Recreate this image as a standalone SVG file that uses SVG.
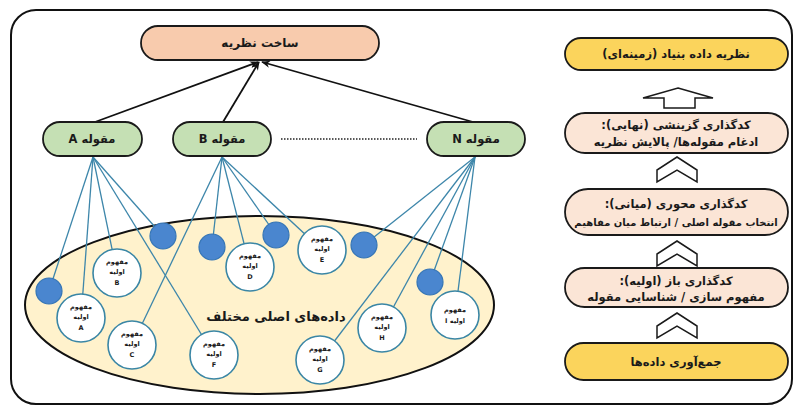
<svg xmlns="http://www.w3.org/2000/svg" width="795" height="408" viewBox="0 0 795 408">
<defs>
<style>
text{font-family:"DejaVu Sans","Noto Sans",sans-serif;font-weight:bold;fill:#1a1a1a;text-anchor:middle;direction:rtl;unicode-bidi:embed}
.box{stroke:#1a1a1a;stroke-width:1.8}
.cat{fill:#c5e0b4}
.peach{fill:#fbe5d6}
.gold{fill:#fbd45c}
.conn{stroke:#111;stroke-width:1.8;fill:none}
.bl{stroke:#3d86aa;stroke-width:1.3;fill:none}
.dot{fill:#4a86cf;stroke:#3575b5;stroke-width:1.2}
.cc{fill:#fff;stroke:#3a86a5;stroke-width:1.6}
.ct{font-size:6.5px}
.lb{font-size:11.5px}
.rt{font-size:11.5px}
.chev{fill:#fff;stroke:#1a1a1a;stroke-width:1.5;stroke-linejoin:miter}
</style>
<marker id="ah" viewBox="0 0 10 10" refX="9" refY="5" markerWidth="9" markerHeight="9" markerUnits="userSpaceOnUse" orient="auto">
<path d="M0,1 L10,5 L0,9 L3,5 Z" fill="#111"/>
</marker>
</defs>

<rect id="frame" x="11" y="10" width="781" height="394" rx="25" fill="#fff" stroke="#111" stroke-width="2"/>

<g id="data-ellipse">
<ellipse cx="259.5" cy="305" rx="234.5" ry="89" fill="#fff2cc" stroke="#111" stroke-width="2"/>
<text x="276" y="321" style="font-size:13px">داده&#8204;های اصلی مختلف</text>
</g>

<g id="connectors">
<line class="conn" x1="95" y1="122" x2="258" y2="62" marker-end="url(#ah)"/>
<line class="conn" x1="223" y1="122" x2="259" y2="62" marker-end="url(#ah)"/>
<line class="conn" x1="473" y1="122" x2="262" y2="62" marker-end="url(#ah)"/>
<line x1="281" y1="139" x2="417" y2="139" stroke="#222" stroke-width="1.5" stroke-dasharray="1.5,1.5"/>
<g class="bl">
<line x1="93" y1="157" x2="49" y2="291"/>
<line x1="93" y1="157" x2="81" y2="318"/>
<line x1="93" y1="157" x2="117" y2="273"/>
<line x1="93" y1="157" x2="163" y2="236"/>
<line x1="93" y1="157" x2="214" y2="355"/>
<line x1="222" y1="157" x2="132" y2="345"/>
<line x1="222" y1="157" x2="212" y2="247"/>
<line x1="222" y1="157" x2="250" y2="267"/>
<line x1="222" y1="157" x2="276" y2="235"/>
<line x1="222" y1="157" x2="322" y2="250"/>
<line x1="475" y1="157" x2="364" y2="245"/>
<line x1="475" y1="157" x2="320" y2="360"/>
<line x1="475" y1="157" x2="382" y2="328"/>
<line x1="475" y1="157" x2="430" y2="282"/>
<line x1="475" y1="157" x2="455" y2="315"/>
</g>
</g>

<g id="theory">
<rect class="box" x="141" y="26" width="238" height="34" rx="17" fill="#f8cbad"/>
<text x="260" y="47" class="lb" style="font-size:12px">ساخت نظریه</text>
</g>
<g id="catA">
<rect class="box cat" x="43" y="122" width="99" height="34" rx="17"/>
<text x="92" y="143" class="lb">مقوله A</text>
</g>
<g id="catB">
<rect class="box cat" x="173" y="122" width="98" height="34" rx="17"/>
<text x="222" y="143" class="lb">مقوله B</text>
</g>
<g id="catN">
<rect class="box cat" x="427" y="122" width="98" height="34" rx="17"/>
<text x="476" y="143" class="lb">مقوله N</text>
</g>

<g id="b1"><circle class="dot" cx="49" cy="291" r="13"/></g>
<g id="b2"><circle class="dot" cx="163" cy="236" r="13"/></g>
<g id="b3"><circle class="dot" cx="212" cy="247" r="13"/></g>
<g id="b4"><circle class="dot" cx="276" cy="235" r="13"/></g>
<g id="b5"><circle class="dot" cx="364" cy="245" r="13"/></g>
<g id="b6"><circle class="dot" cx="430" cy="282" r="13"/></g>

<g id="cA"><circle class="cc" cx="81" cy="318" r="24"/><text class="ct" x="81" y="309">مفهوم</text><text class="ct" x="81" y="319">اولیه</text><text class="ct" x="81" y="330">A</text></g>
<g id="cB"><circle class="cc" cx="117" cy="273" r="24"/><text class="ct" x="117" y="264">مفهوم</text><text class="ct" x="117" y="274">اولیه</text><text class="ct" x="117" y="285">B</text></g>
<g id="cC"><circle class="cc" cx="132" cy="345" r="24"/><text class="ct" x="132" y="336">مفهوم</text><text class="ct" x="132" y="346">اولیه</text><text class="ct" x="132" y="357">C</text></g>
<g id="cD"><circle class="cc" cx="250" cy="267" r="24"/><text class="ct" x="250" y="258">مفهوم</text><text class="ct" x="250" y="268">اولیه</text><text class="ct" x="250" y="279">D</text></g>
<g id="cE"><circle class="cc" cx="322" cy="250" r="24"/><text class="ct" x="322" y="241">مفهوم</text><text class="ct" x="322" y="251">اولیه</text><text class="ct" x="322" y="262">E</text></g>
<g id="cF"><circle class="cc" cx="214" cy="355" r="24"/><text class="ct" x="214" y="346">مفهوم</text><text class="ct" x="214" y="356">اولیه</text><text class="ct" x="214" y="367">F</text></g>
<g id="cG"><circle class="cc" cx="320" cy="360" r="24"/><text class="ct" x="320" y="351">مفهوم</text><text class="ct" x="320" y="361">اولیه</text><text class="ct" x="320" y="372">G</text></g>
<g id="cH"><circle class="cc" cx="382" cy="328" r="24"/><text class="ct" x="382" y="319">مفهوم</text><text class="ct" x="382" y="329">اولیه</text><text class="ct" x="382" y="340">H</text></g>
<g id="cI"><circle class="cc" cx="455" cy="315" r="24"/><text class="ct" x="455" y="312">مفهوم</text><text class="ct" x="455" y="323">اولیه I</text></g>

<g id="grounded">
<rect class="box gold" x="565" y="38" width="223" height="32" rx="16"/>
<text x="676" y="58" class="rt">نظریه داده بنیاد (زمینه&#8204;ای)</text>
</g>
<g id="up-arrow">
<polygon class="chev" points="678,88 713,98 695,98 695,108 664,108 664,98 643,98"/>
</g>
<g id="selective">
<rect class="box peach" x="565" y="113" width="223" height="40" rx="20"/>
<text x="676" y="129" class="rt">کدگذاری گزینشی (نهایی):</text>
<text x="676" y="146" class="rt">ادغام مقوله&#8204;ها/ پالایش نظریه</text>
</g>
<g id="chev1"><polygon class="chev" points="677,157 697,170 697,182 677,170 657,182 657,170"/></g>
<g id="axial">
<rect class="box peach" x="565" y="189" width="223" height="46" rx="23"/>
<text x="676" y="208" class="rt">کدگذاری محوری (میانی):</text>
<text x="676" y="226" class="rt" style="font-size:10px">انتخاب مقوله اصلی / ارتباط میان مفاهیم</text>
</g>
<g id="chev2"><polygon class="chev" points="677,241 697,254 697,266 677,254 657,266 657,254"/></g>
<g id="open">
<rect class="box peach" x="565" y="268" width="223" height="39" rx="19.5"/>
<text x="676" y="285" class="rt">کدگذاری باز (اولیه):</text>
<text x="676" y="301" class="rt">مفهوم سازی / شناسایی مقوله</text>
</g>
<g id="chev3"><polygon class="chev" points="677,313 697,326 697,338 677,326 657,338 657,326"/></g>
<g id="collect">
<rect class="box gold" x="565" y="343" width="223" height="37" rx="18.5"/>
<text x="676" y="366" class="rt">جمع&#8204;آوری داده&#8204;ها</text>
</g>
</svg>
